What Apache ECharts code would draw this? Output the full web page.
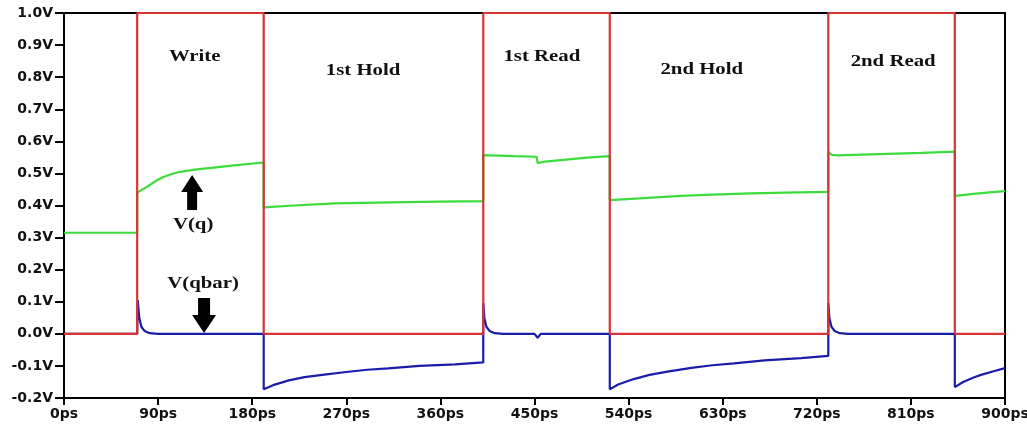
<!DOCTYPE html>
<html>
<head>
<meta charset="utf-8">
<script src="https://cdn.jsdelivr.net/npm/echarts@6/dist/echarts.min.js"></script>
<style>
html,body{margin:0;padding:0;background:#fff;}
#c{width:1027px;height:426px;}
</style>
</head>
<body>
<div id="c"></div>
<script>
// ---- data (time in ps, voltage in V) ----
const clkTime = [0, 70, 70, 191, 191, 401, 401, 522, 522, 731, 731, 852, 852, 900];
const clkV    = [0, 0, 1, 1, 0, 0, 1, 1, 0, 0, 1, 1, 0, 0];

const qTime = [0, 70, 70, 71, 76, 82, 88, 95, 103, 111, 125, 143, 165, 191,
               191, 220, 259, 300, 326, 360, 401,
               401, 430, 452, 453, 460, 480, 500, 522,
               522, 550, 590, 620, 657, 690, 731,
               731, 734, 740, 780, 820, 852,
               852, 870, 885, 900];
const qV    = [0.315, 0.315, 0.44, 0.443, 0.452, 0.464, 0.477, 0.489, 0.498, 0.505, 0.512, 0.518, 0.526, 0.534,
               0.394, 0.400, 0.4066, 0.409, 0.4106, 0.412, 0.4137,
               0.557, 0.554, 0.552, 0.532, 0.537, 0.543, 0.549, 0.554,
               0.417, 0.422, 0.430, 0.434, 0.4377, 0.440, 0.4427,
               0.567, 0.558, 0.556, 0.560, 0.564, 0.568,
               0.430, 0.436, 0.441, 0.445];

const qbarTime = [0, 70, 70.5, 72, 74, 77, 82, 90, 191,
                  191, 200, 215, 230, 247, 270, 290, 310, 340, 374, 401,
                  401, 402, 404, 407, 412, 420, 450, 453, 456, 522,
                  522, 530, 545, 560, 577, 600, 620, 641, 670, 705, 731,
                  731, 732, 734, 737, 742, 750, 852,
                  852, 860, 870, 877, 890, 900];
const qbarV    = [0, 0, 0.105, 0.05, 0.022, 0.009, 0.002, 0, 0,
                  -0.173, -0.160, -0.145, -0.135, -0.128, -0.119, -0.112, -0.1075, -0.100, -0.095, -0.089,
                  0.096, 0.05, 0.022, 0.009, 0.002, 0, 0, -0.012, 0, 0,
                  -0.173, -0.158, -0.141, -0.128, -0.118, -0.106, -0.098, -0.092, -0.083, -0.076, -0.069,
                  0.096, 0.05, 0.022, 0.009, 0.002, 0, 0,
                  -0.166, -0.150, -0.136, -0.128, -0.116, -0.107];

const phaseLabels = ['Write', '1st Hold', '1st Read', '2nd Hold', '2nd Read'];
const phaseAt     = [[125, 0.862], [286, 0.819], [457, 0.862], [610, 0.822], [793, 0.847]];
const nodeLabels  = ['V(q)', 'V(qbar)'];
const nodeAt      = [[123.5, 0.339], [133, 0.155]];

const xMin = 0, xMax = 900, xStep = 90;
const yMin = -0.2, yMax = 1.0, yStep = 0.1;

function zip(a, b) { return a.map((t, i) => [t, b[i]]); }

const chart = echarts.init(document.getElementById('c'), null, {renderer: 'canvas'});
const labelFont = {fontFamily: 'DejaVu Sans', fontWeight: 'bold', fontSize: 14, color: '#111'};

chart.setOption({
  animation: false,
  backgroundColor: '#fff',
  grid: {left: 64, right: 22, top: 13, bottom: 28, show: true, borderColor: '#000', borderWidth: 2,
         backgroundColor: 'transparent', containLabel: false, outerBoundsMode: 'none'},
  xAxis: {
    type: 'value', min: xMin, max: xMax, interval: xStep,
    axisLine: {show: true, onZero: false, lineStyle: {color: '#000', width: 2}},
    axisTick: {show: true, length: 7, lineStyle: {color: '#000', width: 2}},
    splitLine: {show: false},
    axisLabel: Object.assign({margin: 9, formatter: v => Math.round(v) + 'ps'}, labelFont)
  },
  yAxis: {
    type: 'value', min: yMin, max: yMax, interval: yStep,
    axisLine: {show: true, onZero: false, lineStyle: {color: '#000', width: 2}},
    axisTick: {show: true, length: 9, lineStyle: {color: '#000', width: 2}},
    splitLine: {show: false},
    axisLabel: Object.assign({margin: 11, formatter: v => (Math.abs(v) < 1e-9 ? 0 : v).toFixed(1) + 'V'}, labelFont)
  },
  series: [
    {name: 'V(qbar)', type: 'line', data: zip(qbarTime, qbarV), showSymbol: false, clip: false, z: 2,
     lineStyle: {color: '#1c1caa', width: 2.2}, itemStyle: {color: '#1c1caa'}},
    {name: 'V(q)', type: 'line', data: zip(qTime, qV), showSymbol: false, clip: false, z: 3,
     lineStyle: {color: '#3cdc3c', width: 2.2}, itemStyle: {color: '#3cdc3c'}},
    {name: 'CLK', type: 'line', data: zip(clkTime, clkV), showSymbol: false, clip: false, z: 4,
     lineStyle: {color: '#d83434', width: 2.2}, itemStyle: {color: '#d83434'}}
  ]
});

// annotations placed from data coordinates
const serif = {fontFamily: 'Liberation Serif', fontWeight: 'bold', fontSize: 16, fill: '#111', align: 'center', verticalAlign: 'middle'};
const g = [];
phaseLabels.forEach((s, i) => {
  const p = chart.convertToPixel({gridIndex: 0}, phaseAt[i]);
  g.push({type: 'text', x: p[0], y: p[1], scaleX: 1.3, style: Object.assign({text: s}, serif), z: 10});
});
nodeLabels.forEach((s, i) => {
  const p = chart.convertToPixel({gridIndex: 0}, nodeAt[i]);
  g.push({type: 'text', x: p[0], y: p[1], scaleX: 1.3, style: Object.assign({text: s}, serif), z: 10});
});
// arrows
const pq = chart.convertToPixel({gridIndex: 0}, nodeAt[0]);
const pb = chart.convertToPixel({gridIndex: 0}, nodeAt[1]);
const ux = pq[0] - 1, uy = pq[1];
g.push({type: 'polygon', z: 10, shape: {points: [
  [ux - 5, uy - 15], [ux + 5, uy - 15], [ux + 5, uy - 33], [ux + 11, uy - 33],
  [ux, uy - 50], [ux - 11, uy - 33], [ux - 5, uy - 33]]}, style: {fill: '#000'}});
const dx = pb[0] + 1, dy = pb[1];
g.push({type: 'polygon', z: 10, shape: {points: [
  [dx - 6, dy + 14], [dx + 6, dy + 14], [dx + 6, dy + 31], [dx + 12, dy + 31],
  [dx, dy + 49], [dx - 12, dy + 31], [dx - 6, dy + 31]]}, style: {fill: '#000'}});
chart.setOption({graphic: g});
</script>
</body>
</html>
